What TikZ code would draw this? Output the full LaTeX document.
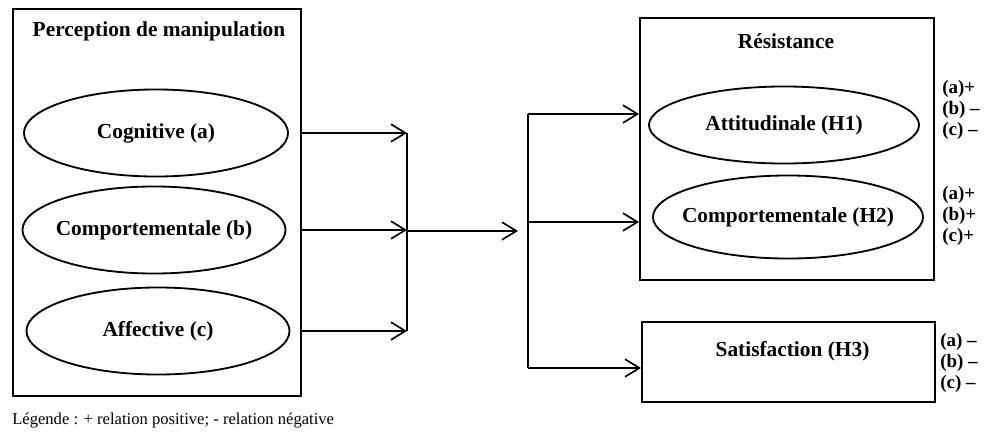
\documentclass[tikz,border=0pt]{standalone}
\usepackage{fontspec}
\setmainfont{Liberation Serif}
\usepackage{tikz}
\newcommand{\ovalwidth}{6.6cm}
\newcommand{\ovalheight}{2.175cm}
\newcommand{\mainfont}{\fontsize{15.2}{18}\selectfont\bfseries}
\newcommand{\signfont}{\fontsize{13.5}{15}\selectfont\bfseries}
\newcommand{\ovaltext}[1]{\makebox[0pt]{#1}}
\usetikzlibrary{arrows.meta,calc,shapes.geometric,positioning}
\tikzset{
  >={Straight Barb[length=3.6mm,width=4.4mm,line width=1.2pt]},
  font=\mainfont,
  box/.style={draw,line width=1.3pt,shape=rectangle,inner sep=0},
  oval/.style={draw,line width=1.3pt,shape=ellipse,minimum width=\ovalwidth,minimum height=\ovalheight,inner sep=0},
  line/.style={draw,line width=1.2pt},
  arr/.style={line,->},
  signs/.style={anchor=west,align=left,font=\signfont,inner sep=0},
}

\begin{document}
\begin{tikzpicture}[x=0.025cm,y=-0.025cm]
      \useasboundingbox (0,0) rectangle (986,434);
      % left block
      \node (perc) [box,minimum width=7.2cm,minimum height=9.675cm] at (157,202.5) {};
      \node (perctitle) at (159,31) {Perception de manipulation};
      \node (cog) [oval] at (156,133) {\ovaltext{Cognitive (a)}};
      \node (comp) [oval,minimum width=6.575cm] at (154,230) {\ovaltext{Comportementale (b)}};
      \node (aff) [oval,minimum width=6.575cm] at (158,331) {\ovaltext{Affective (c)}};
      % right block
      \node (res) [box,minimum width=7.35cm,minimum height=6.55cm] at (787,149) {};
      \node (restitle) at (786,41) {Résistance};
      \node (att) [oval,minimum width=6.75cm,minimum height=1.925cm] at (784,125) {\ovaltext{Attitudinale (H1)}};
      \node (compres) [oval,minimum width=6.75cm,minimum height=2.075cm] at (788,217) {\ovaltext{Comportementale (H2)}};
      \node (sat) [box,minimum width=7.325cm,minimum height=2cm] at (788.5,362) {};
      \node (sattext) at ($(sat.center)+(4,-11)$) {Satisfaction (H3)};
      % signs
      \node (signatt) [signs] at (942,110) {(a)+\\(b) --\\(c) --};
      \node (signcomp) [signs] at (942,216) {(a)+\\(b)+\\(c)+};
      \node (signsat) [signs] at (940,363) {(a) --\\(b) --\\(c) --};
      % connectors
      \coordinate (busL) at (407,231);
      \coordinate (out) at (518,231);
      \coordinate (rtop) at (528,114);
      \coordinate (rmid) at (528,222);
      \coordinate (rbot) at (528,368);
      \path [arr] (perc.east |- cog) -- (busL |- cog);
      \path [arr] (perc.east |- comp) -- (busL |- comp);
      \path [arr] (perc.east |- aff) -- (busL |- aff);
      \path [line] (busL |- cog) -- (busL |- aff);
      \path [arr] (busL) -- (out);
      \path [line] (rtop) -- (rbot);
      \path [arr] (rtop) -- (rtop -| res.west);
      \path [arr] (rmid) -- (rmid -| res.west);
      \path [arr] (rbot) -- (rbot -| sat.west);
      % legend
      \node (legend) [anchor=west,inner sep=0,font=\fontsize{11.8}{14}\selectfont] at (12,421) {Légende : + relation positive; - relation négative};
    \end{tikzpicture}
\end{document}
